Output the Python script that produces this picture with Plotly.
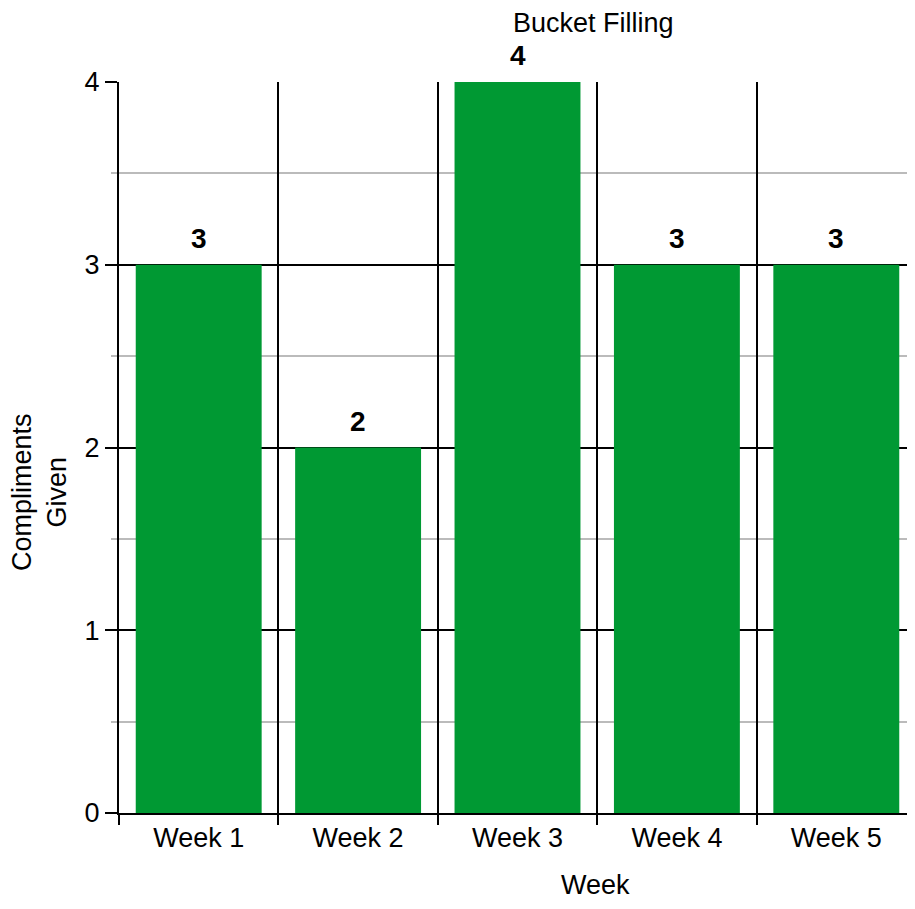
import plotly.graph_objects as go

weeks = ["Week 1", "Week 2", "Week 3", "Week 4", "Week 5"]
compliments = [3, 2, 4, 3, 3]

FONT = "Liberation Sans, Arial, sans-serif"
FS = 27

fig = go.Figure(
    go.Bar(
        x=weeks,
        y=compliments,
        marker=dict(color="#009933", line=dict(width=0)),
        cliponaxis=False,
    )
)

for wk, val in zip(weeks, compliments):
    fig.add_annotation(
        x=wk, y=val, text=f"<b>{val}</b>",
        showarrow=False, yanchor="bottom", xanchor="center",
        yshift=9, font=dict(size=28, color="black", family=FONT),
    )

fig.update_layout(
    width=915,
    height=909,
    margin=dict(l=111, r=7, t=74, b=104),
    paper_bgcolor="white",
    plot_bgcolor="white",
    bargap=0.21,
    showlegend=False,
    font=dict(family=FONT, size=FS, color="black"),
)

fig.update_xaxes(
    type="category",
    tickson="boundaries",
    ticks="outside",
    ticklen=10,
    tickwidth=2,
    tickcolor="black",
    showgrid=True,
    gridcolor="black",
    gridwidth=2,
    showline=True,
    linecolor="black",
    linewidth=2,
    tickfont=dict(size=FS),
    range=[-0.5, 4.5],
)

fig.update_yaxes(
    range=[0, 4],
    dtick=1,
    ticks="outside",
    ticklen=12,
    tickwidth=2,
    tickcolor="black",
    showgrid=True,
    gridcolor="black",
    gridwidth=2,
    showline=True,
    linecolor="black",
    linewidth=2,
    zeroline=False,
    tickfont=dict(size=FS),
    minor=dict(
        dtick=0.5,
        showgrid=True,
        gridcolor="#bbbbbb",
        gridwidth=2,
        ticks="outside",
        ticklen=6,
        tickcolor="#bbbbbb",
        tickwidth=2,
    ),
)

fig.add_annotation(
    text="Bucket Filling", xref="paper", yref="paper",
    x=(593 - 119) / 797, y=1 + (82 - 23) / 731,
    showarrow=False, xanchor="center", yanchor="middle",
    font=dict(size=FS),
)
fig.add_annotation(
    text="Week", xref="paper", yref="paper",
    x=(595 - 119) / 797, y=-(885 - 813) / 731,
    showarrow=False, xanchor="center", yanchor="middle",
    font=dict(size=FS),
)
fig.add_annotation(
    text="Compliments<br>Given", xref="paper", yref="paper",
    x=-(119 - 39) / 797, y=(813 - 492) / 731,
    showarrow=False, xanchor="center", yanchor="middle",
    textangle=-90, font=dict(size=FS),
)

fig.write_html("out.html")
